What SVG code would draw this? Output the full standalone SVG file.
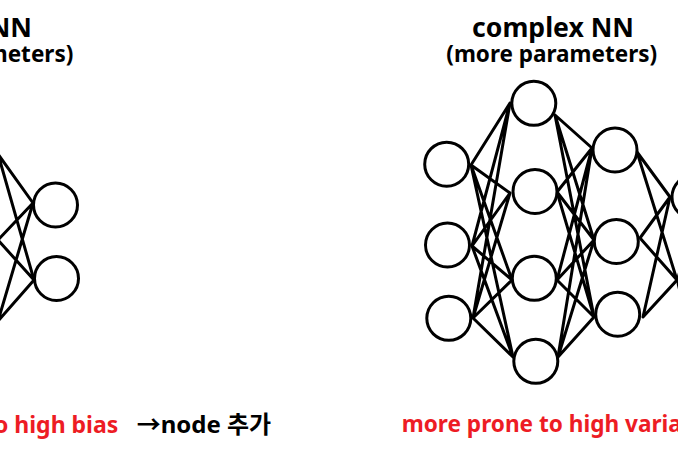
<svg xmlns="http://www.w3.org/2000/svg" width="678" height="452" viewBox="0 0 678 452">
<style>
.n{fill:#fff;stroke:#000;stroke-width:3}
.e{stroke:#000;stroke-width:3;fill:none;stroke-linecap:round}
.t{font-family:"Noto Sans","Noto Sans CJK KR",sans-serif;font-weight:bold;fill:#000}
.r{fill:#ED1C24}
</style>
<rect width="678" height="452" fill="#fff"/>
<g id="connectors">
<path class="e" d="M-2,154L33,203M-2,154L34,280M-2,240L33,203M-2,240L34,280M-2,321L33,203M-2,321L34,280"/>
<path class="e" d="M471,165L510,103M471,165L510,193M471,165L512,280M471,165L513,357
M472,246L510,103M472,246L510,193M472,246L512,280M472,246L513,357
M473,318L510,103M473,318L510,193M473,318L512,280M473,318L513,357"/>
<path class="e" d="M555,115L592,148M555,115L594,240M555,115L594,317
M557,192L592,148M557,192L594,240M557,192L594,317
M557,280L592,148M557,280L594,240M557,280L594,317
M558,357L592,148M558,357L594,240M558,357L594,317"/>
<path class="e" d="M637,152L670,197M637,152L677,280M640,238L670,197M640,238L677,280M643,317L670,197M643,317L677,280"/>
</g>
<g id="left-h1"><circle class="n" cx="55.5" cy="205" r="22"/></g>
<g id="left-h2"><circle class="n" cx="56.5" cy="278.5" r="22"/></g>
<g id="in1"><circle class="n" cx="446.7" cy="164.2" r="22"/></g>
<g id="in2"><circle class="n" cx="447.5" cy="245" r="22"/></g>
<g id="in3"><circle class="n" cx="448.8" cy="318.3" r="22"/></g>
<g id="h1a"><circle class="n" cx="533.8" cy="103.3" r="22"/></g>
<g id="h1b"><circle class="n" cx="535" cy="191.5" r="22"/></g>
<g id="h1c"><circle class="n" cx="534.3" cy="278.3" r="22"/></g>
<g id="h1d"><circle class="n" cx="535.8" cy="361.3" r="22"/></g>
<g id="h2a"><circle class="n" cx="615" cy="150" r="22"/></g>
<g id="h2b"><circle class="n" cx="616.3" cy="241.5" r="22"/></g>
<g id="h2c"><circle class="n" cx="617.7" cy="314.2" r="22"/></g>
<g id="out1"><circle class="n" cx="694" cy="197" r="22"/></g>
<g id="out2"><circle class="n" cx="700" cy="281" r="22"/></g>
<g id="titles">
<text class="t" x="32" y="36.7" font-size="26.6" text-anchor="end">NN</text>
<text class="t" x="73.3" y="61.7" font-size="22.5" text-anchor="end">meters)</text>
<text class="t" x="553" y="36.7" font-size="26.6" text-anchor="middle">complex NN</text>
<text class="t" x="551.7" y="61.7" font-size="22.5" text-anchor="middle">(more parameters)</text>
</g>
<g id="captions">
<text class="t r" x="118.3" y="433.3" font-size="23" text-anchor="end">o high bias</text>
<text class="t" x="136.7" y="433.3" font-size="24">→node 추가</text>
<text class="t r" x="401.7" y="431.7" font-size="22.6">more prone to high varia</text>
</g>
</svg>
